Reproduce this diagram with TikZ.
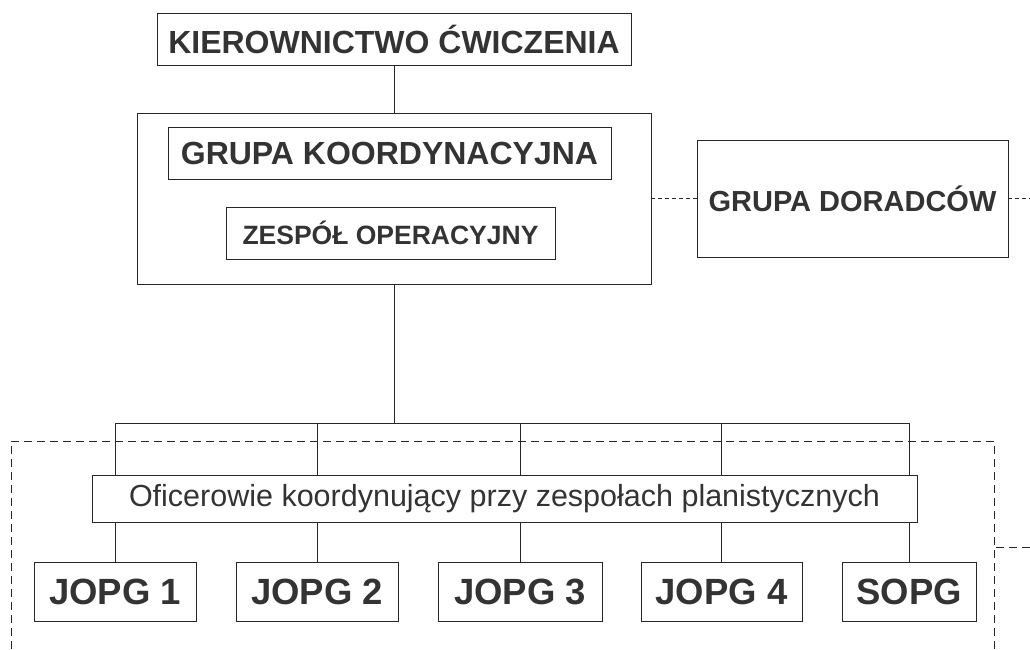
\documentclass[tikz,border=0pt]{standalone}
\usepackage{fontspec}
\setmainfont{Liberation Sans}
\usepackage{tikz}
\tikzset{
	plain/.style = {draw, rectangle, inner sep=0, text=black!80},
	heading/.style = {plain, minimum height=52pt, font=\bfseries\fontsize{32}{32}\selectfont},
	team/.style = {plain, minimum height=52pt, font=\bfseries\fontsize{26.5}{26.5}\selectfont},
	advisors/.style = {plain, font=\bfseries\fontsize{29}{29}\selectfont},
	officer/.style = {plain, font=\fontsize{30.5}{30.5}\selectfont},
	unit/.style = {plain, minimum height=59pt, font=\bfseries\fontsize{36.5}{36.5}\selectfont},
	framedash/.style = {dash pattern=on 8pt off 5pt},
	linkdash/.style = {dash pattern=on 4pt off 3pt}
}

\begin{document}
\begin{tikzpicture}[x=1pt, y=-1pt, line width=0.7pt, draw=black!85]
	\useasboundingbox (0,0) rectangle (1030,649);
	
	\node [heading, minimum width=474pt] (kier) at (394,39) {KIEROWNICTWO ĆWICZENIA};
	\node [plain, minimum width=514pt, minimum height=171pt] (sztab) at (394,198.5) {};
	\node [heading, minimum width=443pt] (koord) at (389.5,153) {GRUPA KOORDYNACYJNA};
	\node [team, minimum width=329pt] (zesp) at (390.5,233) {ZESPÓŁ OPERACYJNY};
	\node [advisors, minimum width=311pt, minimum height=117pt] (dorad) at (852.5,198.5) {GRUPA DORADCÓW};
	
	\node [officer, minimum width=825pt, minimum height=47pt] (ofic) at (504.5,498.5) {Oficerowie koordynujący przy zespołach planistycznych};
	\node [unit, minimum width=162pt] (j1) at (115,591.5) {JOPG 1};
	\node [unit, minimum width=162pt] (j2) at (317,591.5) {JOPG 2};
	\node [unit, minimum width=164pt] (j3) at (520,591.5) {JOPG 3};
	\node [unit, minimum width=161pt] (j4) at (721.5,591.5) {JOPG 4};
	\node [unit, minimum width=134pt] (sopg) at (909,591.5) {SOPG};
	
	\coordinate (bus) at (394,423);
	\coordinate (frameL) at (11,649);
	\coordinate (frameR) at (994,441);
	\coordinate (frameB) at (994,649);
	\coordinate (dorEnd) at (1030,198.5);
	\coordinate (sideEnd) at (1030,547);
	
	\draw (kier) -- (sztab);
	\draw (sztab) -- (bus);
	\draw (j1 |- bus) -- (sopg |- bus);
	
	\draw (j1 |- bus) -- (j1 |- ofic.north);
	\draw (j2 |- bus) -- (j2 |- ofic.north);
	\draw (j3 |- bus) -- (j3 |- ofic.north);
	\draw (j4 |- bus) -- (j4 |- ofic.north);
	\draw (sopg |- bus) -- (sopg |- ofic.north);
	
	\draw (j1 |- ofic.south) -- (j1);
	\draw (j2 |- ofic.south) -- (j2);
	\draw (j3 |- ofic.south) -- (j3);
	\draw (j4 |- ofic.south) -- (j4);
	\draw (sopg |- ofic.south) -- (sopg);
	
	\draw [linkdash] (sztab.east) -- (dorad.west);
	\draw [linkdash] (dorad.east) -- (dorEnd);
	
	\draw [framedash] (frameL) |- (frameR) -- (frameB);
	\draw [framedash] (sideEnd) -- (sideEnd -| frameB);
\end{tikzpicture}
\end{document}
